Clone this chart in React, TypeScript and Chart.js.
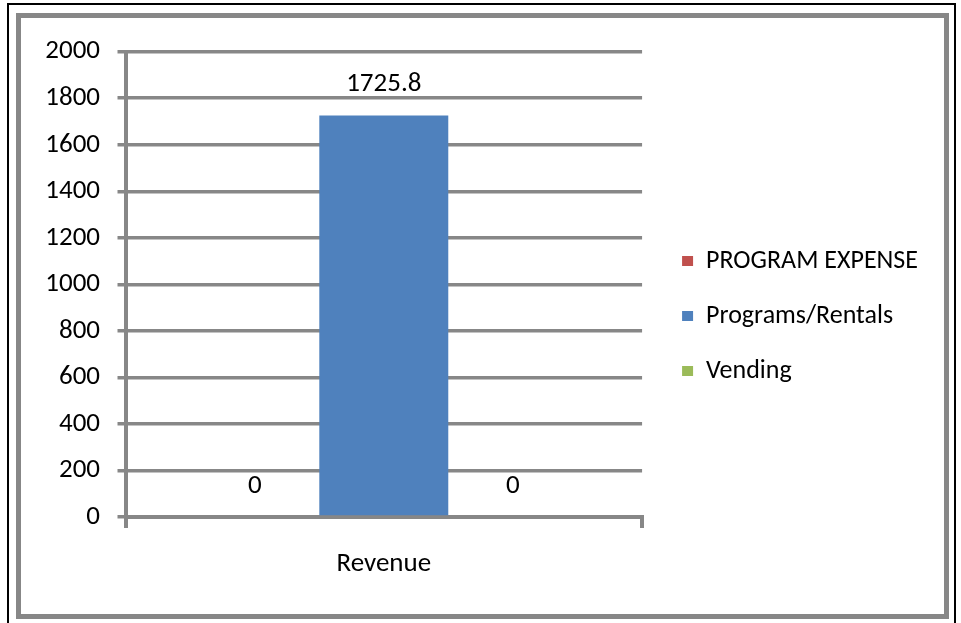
import React, { useEffect, useRef } from "react";
import { Chart, registerables } from "chart.js";

Chart.register(...registerables);

const categories = ["Revenue"];
const seriesNames = ["PROGRAM EXPENSE", "Programs/Rentals", "Vending"];
const programExpense = [0];
const programsRentals = [1725.8];
const vending = [0];
const seriesColors = ["#C0504D", "#4F81BD", "#9BBB59"];
const yMin = 0;
const yMax = 2000;
const yStep = 200;

const FONT = 'Carlito, Calibri, "Open Sans", sans-serif';
const GRAY = "#878787";
const FS = 27;

const dataLabelPlugin = {
  id: "dataLabels",
  afterDatasetsDraw(chart: any) {
    const ctx = chart.ctx;
    ctx.save();
    ctx.font = `${FS}px ${FONT}`;
    ctx.fillStyle = "#000";
    ctx.textAlign = "center";
    ctx.textBaseline = "alphabetic";
    chart.data.datasets.forEach((ds: any, i: number) => {
      const meta = chart.getDatasetMeta(i);
      meta.data.forEach((el: any, j: number) => {
        const v = ds.data[j];
        ctx.fillText(String(v), el.x, el.y - 24);
      });
    });
    ctx.restore();
  },
};

export default function App() {
  const ref = useRef<HTMLCanvasElement | null>(null);
  useEffect(() => {
    if (!ref.current) return;
    const seriesData = [programExpense, programsRentals, vending];
    const chart = new Chart(ref.current, {
      type: "bar",
      data: {
        labels: categories,
        datasets: seriesNames.map((name, i) => ({
          label: name,
          data: seriesData[i],
          backgroundColor: seriesColors[i],
          borderWidth: 0,
          barPercentage: 1,
          categoryPercentage: 0.749,
        })),
      },
      options: {
        animation: false,
        responsive: false,
        maintainAspectRatio: false,
        layout: { padding: { left: 0, right: 16, top: 31, bottom: 31 } },
        plugins: {
          legend: {
            position: "right",
            maxWidth: 400,
            labels: {
              boxWidth: 11,
              boxHeight: 10,
              padding: 29,
              color: "#000",
              font: { family: FONT, size: 26 },
            },
          },
          tooltip: { enabled: false },
          title: { display: false },
        },
        scales: {
          x: {
            grid: {
              display: true,
              drawOnChartArea: false,
              drawTicks: true,
              tickLength: 11,
              color: GRAY,
              lineWidth: 4,
            },
            border: { display: true, color: GRAY, width: 4 },
            ticks: { color: "#000", font: { family: FONT, size: FS }, padding: 20 },
            afterFit: (s: any) => {
              s.height = 66;
            },
          },
          y: {
            min: yMin,
            max: yMax,
            grid: {
              color: GRAY,
              lineWidth: 3.5,
              tickLength: 8,
              drawTicks: true,
            },
            border: { display: true, color: GRAY, width: 4 },
            ticks: {
              stepSize: yStep,
              color: "#000",
              font: { family: FONT, size: FS },
              padding: 17.5,
              callback: (v: any) => String(v),
            },
            afterFit: (s: any) => {
              s.width = 104.5;
            },
          },
          pad: {
            type: "linear",
            position: "right",
            display: true,
            grid: { display: false, drawTicks: false },
            border: { display: false },
            ticks: { display: false },
            afterFit: (s: any) => {
              s.width = 11;
            },
          },
        },
      } as any,
      plugins: [dataLabelPlugin],
    });
    return () => chart.destroy();
  }, []);

  return (
    <div style={{ position: "absolute", left: 0, top: 0, width: 961, height: 623, background: "#fff", overflow: "hidden" }}>
      <div
        style={{
          position: "absolute",
          left: 7,
          top: 3,
          width: 949,
          height: 630,
          border: "2px solid #000",
          boxSizing: "border-box",
        }}
      />
      <div
        style={{
          position: "absolute",
          left: 16,
          top: 13,
          width: 933,
          height: 606,
          border: `5px solid ${GRAY}`,
          boxSizing: "border-box",
          background: "#fff",
        }}
      />
      <canvas
        ref={ref}
        width={923}
        height={596}
        style={{ position: "absolute", left: 21, top: 18, width: 923, height: 596 }}
      />
    </div>
  );
}
